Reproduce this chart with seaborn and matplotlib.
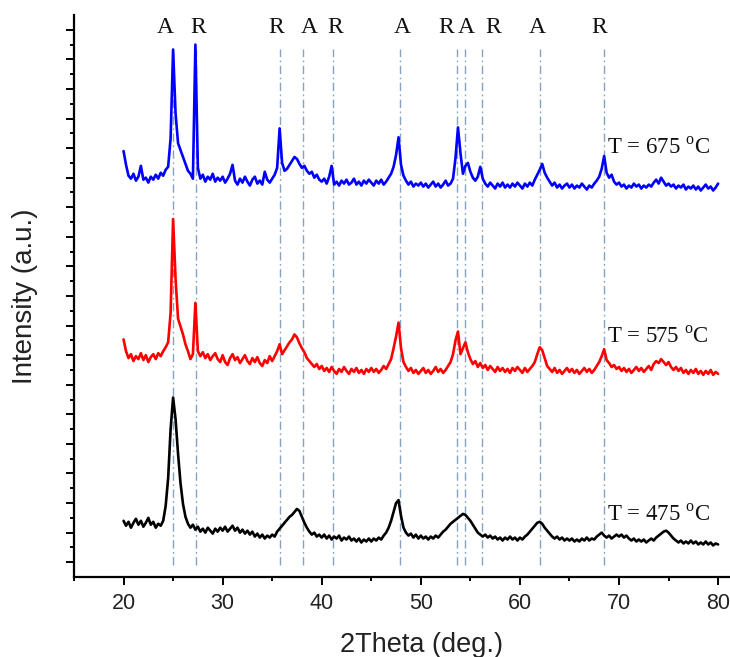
import numpy as np
import pandas as pd
import matplotlib
matplotlib.use("Agg")
import matplotlib.pyplot as plt
from matplotlib.ticker import MultipleLocator, FixedLocator, NullFormatter
import seaborn as sns

# 2theta scan, 20-80 deg in 0.25 deg steps
two_theta = np.linspace(20.0, 80.0, 241)

# Stacked diffraction patterns (a.u.), one row = 5 deg
i_675 = [
    432, 418, 407, 404, 409, 402, 406, 417, 403, 405, 400, 406, 403, 408, 404, 410, 407, 413, 416, 445,
    535, 470, 440, 433, 426, 419, 412, 409, 404, 540, 415, 404, 408, 401, 406, 403, 409, 401, 405, 402,
    406, 400, 404, 409, 418, 402, 398, 404, 400, 406, 401, 397, 403, 406, 399, 402, 398, 411, 403, 400,
    404, 408, 415, 455, 420, 412, 414, 418, 422, 426, 424, 419, 415, 417, 412, 409, 411, 405, 408, 403,
    401, 404, 399, 406, 417, 398, 401, 397, 402, 399, 403, 398, 400, 404, 398, 401, 397, 402, 399, 403,
    400, 397, 402, 399, 403, 398, 401, 405, 409, 416, 428, 446, 418, 407, 402, 398, 401, 396, 399, 397,
    400, 396, 399, 395, 398, 401, 396, 399, 395, 398, 402, 397, 399, 404, 425, 456, 430, 409, 417, 420,
    411, 405, 402, 406, 416, 404, 399, 396, 400, 397, 394, 399, 396, 400, 395, 398, 395, 399, 396, 400,
    397, 394, 399, 396, 400, 397, 403, 408, 413, 419, 410, 405, 401, 397, 400, 395, 398, 394, 397, 399,
    395, 398, 394, 397, 395, 399, 396, 393, 397, 395, 399, 402, 406, 414, 427, 410, 405, 408, 401, 398,
    400, 396, 398, 394, 397, 395, 399, 396, 398, 394, 397, 395, 398, 396, 400, 403, 399, 405, 401, 397,
    399, 396, 398, 394, 397, 395, 398, 393, 396, 394, 397, 393, 396, 392, 395, 398, 394, 396, 392, 395,
    399,
]

i_575 = [
    241, 229, 222, 226, 219, 224, 221, 227, 220, 225, 218, 223, 226, 221, 227, 224, 229, 233, 238, 268,
    363, 302, 262, 254, 246, 236, 229, 221, 226, 278, 229, 224, 228, 222, 226, 220, 224, 227, 221, 218,
    225, 218, 215, 222, 226, 220, 223, 217, 221, 225, 219, 216, 222, 218, 223, 217, 214, 220, 217, 224,
    219, 224, 229, 236, 226, 230, 234, 238, 241, 246, 243, 237, 232, 228, 222, 219, 216, 213, 216, 211,
    214, 209, 212, 208, 213, 209, 206, 211, 208, 213, 209, 206, 211, 208, 212, 207, 210, 206, 211, 208,
    212, 208, 211, 207, 210, 214, 211, 216, 221, 232, 244, 258, 232, 218, 213, 209, 212, 207, 210, 206,
    209, 212, 207, 210, 206, 209, 213, 208, 211, 207, 210, 214, 218, 226, 240, 249, 226, 232, 238, 228,
    221, 216, 219, 213, 217, 212, 215, 210, 214, 211, 208, 213, 209, 212, 208, 211, 207, 212, 209, 213,
    210, 207, 212, 208, 211, 214, 218, 226, 233, 230, 222, 214, 211, 208, 212, 207, 210, 206, 209, 212,
    208, 211, 207, 210, 206, 209, 212, 208, 211, 207, 210, 214, 218, 224, 231, 220, 217, 213, 215, 211,
    213, 209, 212, 208, 211, 207, 210, 213, 209, 212, 208, 211, 214, 210, 216, 219, 217, 221, 218, 215,
    218, 213, 210, 213, 209, 212, 207, 210, 206, 210, 207, 211, 206, 209, 205, 209, 206, 210, 205, 208,
    206,
]

i_475 = [
    57, 52, 56, 50, 55, 59, 53, 57, 51, 55, 60, 53, 56, 50, 54, 52, 57, 72, 100, 150,
    182, 160, 125, 95, 74, 61, 54, 50, 53, 48, 51, 46, 49, 45, 50, 47, 44, 49, 46, 50,
    47, 51, 46, 49, 52, 47, 50, 45, 48, 44, 47, 43, 46, 41, 44, 40, 43, 39, 42, 40,
    43, 41, 46, 49, 52, 55, 58, 61, 63, 66, 69, 67, 61, 55, 50, 46, 43, 45, 41, 43,
    40, 43, 39, 42, 38, 41, 39, 42, 37, 40, 38, 41, 37, 39, 36, 39, 35, 38, 36, 39,
    36, 39, 37, 40, 38, 42, 45, 50, 57, 66, 75, 78, 62, 50, 45, 42, 44, 40, 43, 39,
    42, 39, 41, 38, 41, 39, 42, 40, 43, 46, 48, 51, 54, 56, 58, 60, 62, 64, 63, 60,
    57, 53, 49, 45, 43, 41, 43, 40, 42, 39, 41, 38, 40, 37, 40, 38, 41, 38, 40, 37,
    40, 38, 41, 43, 46, 49, 52, 55, 56, 54, 50, 47, 44, 41, 39, 41, 38, 40, 37, 39,
    37, 39, 36, 38, 36, 39, 37, 40, 37, 39, 38, 41, 43, 45, 42, 40, 42, 39, 41, 43,
    41, 43, 40, 42, 39, 37, 39, 36, 38, 36, 38, 35, 37, 39, 37, 40, 42, 44, 46, 47,
    45, 42, 39, 37, 35, 37, 34, 36, 34, 37, 34, 36, 33, 35, 33, 36, 33, 35, 32, 34,
    33,
]

samples = ["T = 475", "T = 575", "T = 675"]
curve_colors = ["#000000", "#ff0000", "#0000ff"]

# Reflection markers: anatase (A) and rutile (R)
phase_pos = [25.0, 27.3, 35.8, 38.1, 41.1, 47.9, 53.6, 54.5, 56.2, 62.0, 68.5]
phase_lab = ["A", "R", "R", "A", "R", "A", "R", "A", "R", "A", "R"]
phase_lab_x = [24.25, 27.5, 35.45, 38.7, 41.4, 48.1, 52.6, 54.55, 57.3, 61.8, 68.0]

for arr in (i_475, i_575, i_675):
    assert len(arr) == len(two_theta)

df = pd.DataFrame({
    "two_theta": np.tile(two_theta, 3),
    "intensity": i_475 + i_575 + i_675,
    "sample": np.repeat(samples, len(two_theta)),
})

sns.set_theme(style="ticks")
plt.rcParams["font.family"] = ["Liberation Sans", "DejaVu Sans"]
plt.rcParams["mathtext.fontset"] = "custom"
plt.rcParams["mathtext.rm"] = "Liberation Serif"

fig = plt.figure(figsize=(7.3, 6.57), dpi=100)
ax = fig.add_axes([74 / 730, 1 - 577 / 657, 656 / 730, 562 / 657])

ax.vlines(phase_pos, 12, 536, colors="#85a3c2", linestyles=(0, (6, 2.5, 1.2, 2.5)),
          linewidth=1.0, zorder=1)

sns.lineplot(data=df, x="two_theta", y="intensity", hue="sample",
             palette=dict(zip(samples, curve_colors)), estimator=None, sort=False,
             linewidth=1.9, legend=False, ax=ax, zorder=3)

serif = ["Liberation Serif", "DejaVu Serif"]
for x, lab in zip(phase_lab_x, phase_lab):
    ax.text(x, 557, lab, ha="center", va="center", fontsize=17, family=serif,
            color="#111111")

temp_y = [63, 243, 435]
for name, y in zip(samples, temp_y):
    ax.text(68.75, y, name + r" $^{\mathrm{o}}$C", ha="left", va="center",
            fontsize=16.5, family=serif, color="#111111")

ax.set_xlim(15, 81.2)
ax.set_ylim(0, 570)
ax.xaxis.set_major_locator(MultipleLocator(10))
ax.xaxis.set_minor_locator(MultipleLocator(5))
ax.yaxis.set_major_locator(FixedLocator(np.arange(15, 570, 30)))
ax.yaxis.set_minor_locator(FixedLocator(np.arange(30, 570, 30)))
ax.yaxis.set_major_formatter(NullFormatter())

ax.tick_params(axis="both", which="major", direction="out", length=5.5, width=1.4,
               color="black", labelsize=15.5, labelcolor="#222222")
ax.tick_params(axis="both", which="minor", direction="out", length=3, width=1.4, color="black")
ax.tick_params(axis="x", which="major", pad=6)

for side in ("top", "right"):
    ax.spines[side].set_visible(False)
for side in ("left", "bottom"):
    ax.spines[side].set_linewidth(1.6)
    ax.spines[side].set_color("black")

ax.set_xlabel("2Theta (deg.)", fontsize=19.5, color="#222222")
ax.set_ylabel("Intensity (a.u.)", fontsize=20, color="#222222")
ax.xaxis.set_label_coords(0.529, -0.097)
ax.yaxis.set_label_coords(-0.055, 0.5)

fig.savefig("out.png", dpi=100)
